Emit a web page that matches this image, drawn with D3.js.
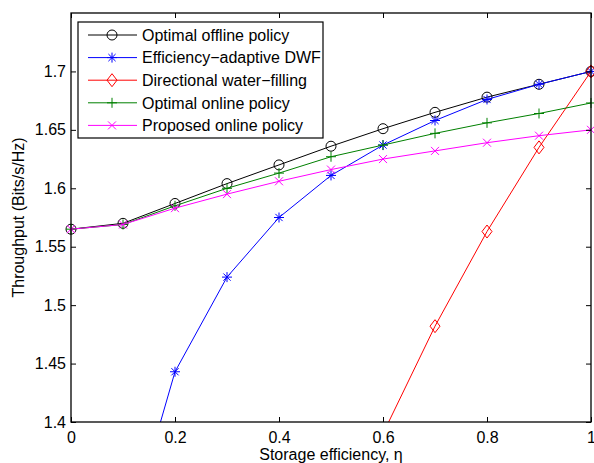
<!DOCTYPE html>
<html>
<head>
<meta charset="utf-8">
<script src="https://cdn.jsdelivr.net/npm/d3@7"></script>
<style>
body{margin:0;background:#fff;}
svg{font-family:"Liberation Sans",Arial,sans-serif;}
</style>
</head>
<body>
<svg id="chart" width="594" height="463"></svg>
<script>
// storage efficiency values on x
var eta=[0,0.1,0.2,0.3,0.4,0.5,0.6,0.7,0.8,0.9,1];
var xTicks=[0,0.2,0.4,0.6,0.8,1];
var yTicks=[1.4,1.45,1.5,1.55,1.6,1.65,1.7];

var offline=[1.565,1.570,1.587,1.604,1.620,1.636,1.651,1.665,1.678,1.689,1.700];
var dwfEta=[0.1,0.2,0.3,0.4,0.5,0.6,0.7,0.8,0.9,1];
var dwf=[1.289,1.443,1.524,1.575,1.611,1.637,1.658,1.676,1.689,1.700];
var dirEta=[0.6,0.7,0.8,0.9,1];
var dirWF=[1.390,1.482,1.563,1.635,1.700];
var online=[1.565,1.569,1.585,1.600,1.613,1.627,1.637,1.647,1.656,1.664,1.673];
var proposed=[1.565,1.569,1.583,1.595,1.606,1.616,1.625,1.632,1.639,1.645,1.650];

var series=[
  {name:"Optimal offline policy",xs:eta,ys:offline,color:"#000000",mark:"circle"},
  {name:"Efficiency\u2212adaptive DWF",xs:dwfEta,ys:dwf,color:"#0000ff",mark:"star"},
  {name:"Directional water\u2212filling",xs:dirEta,ys:dirWF,color:"#ff0000",mark:"diamond"},
  {name:"Optimal online policy",xs:eta,ys:online,color:"#008000",mark:"plus"},
  {name:"Proposed online policy",xs:eta,ys:proposed,color:"#ff00ff",mark:"cross"}
];

var L=71,R=591,T=13,B=422;
var svg=d3.select("#chart");
var x=d3.scaleLinear().domain([0,1]).range([L,R]);
var y=d3.scaleLinear().domain([1.4,1.75]).range([B,T]);

svg.append("defs").append("clipPath").attr("id","clip")
  .append("rect").attr("x",L).attr("y",T).attr("width",R-L).attr("height",B-T);

function drawMark(g,type,cx,cy,color){
  var s;
  if(type=="circle"){
    g.append("circle").attr("cx",cx).attr("cy",cy).attr("r",5)
      .attr("fill","none").attr("stroke",color).attr("stroke-width",1);
    return;
  }
  if(type=="diamond"){
    g.append("path").attr("d","M"+cx+","+(cy-6.5)+"L"+(cx+5)+","+cy+"L"+cx+","+(cy+6.5)+"L"+(cx-5)+","+cy+"Z")
      .attr("fill","none").attr("stroke",color).attr("stroke-width",1);
    return;
  }
  var d="";
  if(type=="plus"||type=="star"){
    s=5;
    d+="M"+(cx-s)+","+cy+"L"+(cx+s)+","+cy+"M"+cx+","+(cy-s)+"L"+cx+","+(cy+s);
  }
  if(type=="cross"||type=="star"){
    s=type=="star"?3.6:4;
    d+="M"+(cx-s)+","+(cy-s)+"L"+(cx+s)+","+(cy+s)+"M"+(cx-s)+","+(cy+s)+"L"+(cx+s)+","+(cy-s);
  }
  g.append("path").attr("d",d).attr("fill","none").attr("stroke",color).attr("stroke-width",1);
}

var line=d3.line().x(function(d){return x(d[0]);}).y(function(d){return y(d[1]);});

series.forEach(function(s){
  var pts=s.xs.map(function(v,i){return [v,s.ys[i]];});
  svg.append("path").datum(pts).attr("d",line).attr("clip-path","url(#clip)")
    .attr("fill","none").attr("stroke",s.color).attr("stroke-width",1);
  var g=svg.append("g");
  pts.forEach(function(p){
    if(p[1]>=1.4&&p[1]<=1.75) drawMark(g,s.mark,x(p[0]),y(p[1]),s.color);
  });
});

// ticks (inward, all four sides)
var xb=svg.append("g").attr("transform","translate(0,"+B+")")
  .call(d3.axisBottom(x).tickValues(xTicks).tickFormat(d3.format("")).tickSizeInner(-5).tickSizeOuter(0).tickPadding(10));
var xt=svg.append("g").attr("transform","translate(0,"+T+")")
  .call(d3.axisTop(x).tickValues(xTicks).tickFormat("").tickSizeInner(-5).tickSizeOuter(0));
var yl=svg.append("g").attr("transform","translate("+L+",0)")
  .call(d3.axisLeft(y).tickValues(yTicks).tickFormat(d3.format("")).tickSizeInner(-5).tickSizeOuter(0).tickPadding(5));
var yr=svg.append("g").attr("transform","translate("+R+",0)")
  .call(d3.axisRight(y).tickValues(yTicks).tickFormat("").tickSizeInner(-5).tickSizeOuter(0));
[xb,xt,yl,yr].forEach(function(a){
  a.select(".domain").remove();
  a.selectAll("line").attr("stroke","#000");
  a.selectAll("text").attr("font-size",16).attr("fill","#000")
    .attr("font-family","'Liberation Sans',Arial,sans-serif");
});
xb.selectAll("text").attr("dy","0.71em");

svg.append("rect").attr("x",L).attr("y",T).attr("width",R-L).attr("height",B-T)
  .attr("fill","none").attr("stroke","#000").attr("stroke-width",1.3);

// axis labels
svg.append("text").attr("x",(L+R)/2).attr("y",460).attr("text-anchor","middle")
  .attr("font-size",16).text("Storage efficiency, \u03b7");
svg.append("text").attr("transform","translate(24,"+((T+B)/2)+") rotate(-90)")
  .attr("text-anchor","middle").attr("font-size",16).text("Throughput (Bits/s/Hz)");

// legend
var lg=svg.append("g");
lg.append("rect").attr("x",78).attr("y",22).attr("width",245).attr("height",116)
  .attr("fill","#fff").attr("stroke","#000").attr("stroke-width",1.2);
series.forEach(function(s,i){
  var yy=35+i*22.6;
  lg.append("line").attr("x1",88).attr("x2",137).attr("y1",yy).attr("y2",yy)
    .attr("stroke",s.color).attr("stroke-width",1);
  drawMark(lg,s.mark,112,yy,s.color);
  lg.append("text").attr("x",142).attr("y",yy).attr("dy","0.36em")
    .attr("font-size",16).text(s.name);
});
</script>
</body>
</html>
